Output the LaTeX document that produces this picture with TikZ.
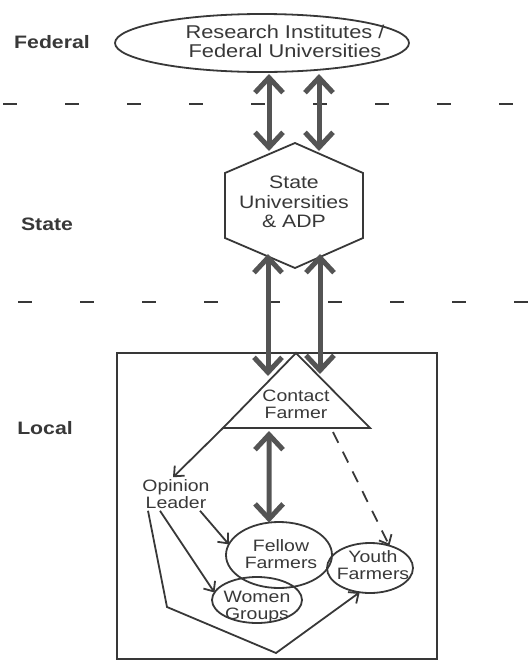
\documentclass[tikz,border=0pt]{standalone}
\usepackage{fontspec}
\setmainfont{Liberation Sans}[FakeStretch=1.18]
\usetikzlibrary{shapes.geometric,arrows.meta,calc}
\definecolor{ink}{gray}{0.22}
\definecolor{arrink}{gray}{0.33}
\begin{document}
\begin{tikzpicture}[x=1pt,y=-1pt,
  lineink/.style={draw=ink, line width=1.8pt},
  txt/.style={text=ink, align=center, inner sep=0pt, font=\fontsize{16.5}{17}\selectfont},
  lvl/.style={text=ink, inner sep=0pt, font=\bfseries\fontsize{18}{20}\selectfont},
  bigarrow/.style={line width=5pt, draw=arrink,
    {Straight Barb[length=15pt,width=28pt]}-{Straight Barb[length=15pt,width=28pt]}},
  tarrow/.style={lineink, -{Straight Barb[length=8pt,width=14pt]}},
  ell/.style={lineink, ellipse, inner sep=0pt, outer sep=0pt},
  divider/.style={draw=ink, line width=1.6pt, dash pattern=on 14pt off 48pt}
]
\useasboundingbox (0,0) rectangle (531,665);

% level dividers
\draw[divider, dash phase=59pt] (0,104) -- (531,104);
\draw[divider, dash phase=44pt] (0,302) -- (531,302);

% level labels
\node[lvl] (lfed) at (52,42) {Federal};
\node[lvl] (lstate) at (47,224) {State};
\node[lvl] (llocal) at (45,428) {Local};

% federal ellipse
\node[ell, minimum width=294pt, minimum height=58pt] (fed) at (262,43) {};
\node[txt, font=\fontsize{18.5}{19}\selectfont] (fedt) at (285,41) {Research Institutes /\\Federal Universities};

% state hexagon
\coordinate (h1) at (295,143);
\coordinate (h2) at (363,173);
\coordinate (h3) at (363,238);
\coordinate (h4) at (295,268);
\coordinate (h5) at (225,238);
\coordinate (h6) at (225,173);
\draw[lineink] (h1) -- (h2) -- (h3) -- (h4) -- (h5) -- (h6) -- cycle;
\node[txt, font=\fontsize{18}{19.5}\selectfont] (st) at (294,202) {State\\Universities\\\& ADP};

% local box
\draw[lineink] (117,353) rectangle (437,659);

% contact farmer triangle
\coordinate (ta) at (296,353);
\coordinate (tl) at (223,428);
\coordinate (tr) at (370,428);
\draw[lineink] (ta) -- (tr) -- (tl) -- cycle;
\node[txt] (cf) at (296,404) {Contact\\Farmer};

% lower nodes
\node[txt] (ol) at (176,494) {Opinion\\Leader};
\node[ell, minimum width=106pt, minimum height=66pt] (fellow) at (279,555) {};
\node[txt] (fellowt) at (281,554) {Fellow\\Farmers};
\node[ell, minimum width=86pt, minimum height=50pt] (youth) at (370,568) {};
\node[txt] (youtht) at (373,565) {Youth\\Farmers};
\node[ell, minimum width=90pt, minimum height=46pt] (women) at (257,600) {};
\node[txt] (woment) at (257,607) {Women\\Groups};

% thick two-way arrows
\coordinate (a1) at (269,74);  \coordinate (a2) at (269,151);
\coordinate (b1) at (319,74);  \coordinate (b2) at (319,151);
\coordinate (c1) at (268,254); \coordinate (c2) at (268,376);
\coordinate (d1) at (320,254); \coordinate (d2) at (320,374);
\coordinate (e1) at (269,431);
\draw[bigarrow] (a1) -- (a2);
\draw[bigarrow] (b1) -- (b2);
\draw[bigarrow] (c1) -- (c2);
\draw[bigarrow] (d1) -- (d2);
\draw[bigarrow] (e1) -- (fellow.107);

% thin connectors
\draw[tarrow] (tl) -- ($(ol.north)+(-3,-2)$);
\coordinate (ds) at (333,432);
\draw[tarrow, dash pattern=on 12pt off 10pt] (ds) -- (youth.49);
\draw[tarrow] ($(ol.south)+(24,2)$) -- (fellow.168);
\draw[tarrow] ($(ol.south)+(-16,2)$) -- (women.170);
\coordinate (p1) at (167,607);
\coordinate (p2) at (276,653);
\draw[tarrow] ($(ol.south)+(-28,2)$) -- (p1) -- (p2) -- (youth.247);
\end{tikzpicture}
\end{document}
